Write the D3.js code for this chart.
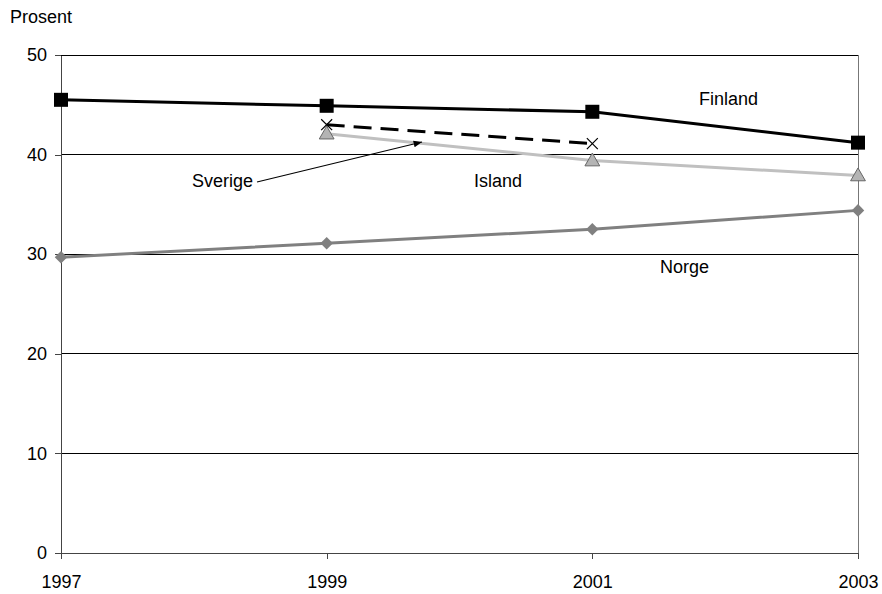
<!DOCTYPE html>
<html>
<head>
<meta charset="utf-8">
<title>Prosent</title>
<script src="https://cdn.jsdelivr.net/npm/d3@7"></script>
<style>
	body { margin: 0; background: #fff; }
	text { font-family: "Liberation Sans", Arial, sans-serif; fill: #000; }
	.axis path, .axis line { stroke: #444; shape-rendering: crispEdges; }
	.axis text { font-size: 18px; }
	.grid line { stroke: #000; stroke-width: 1; shape-rendering: crispEdges; }
</style>
</head>
<body>
<script>
// data
var years = [1997, 1999, 2001, 2003];
var yTicks = [0, 10, 20, 30, 40, 50];
var finland = [45.5, 44.9, 44.3, 41.2];
var sverige = [null, 43.0, 41.1, null];
var island = [null, 42.1, 39.4, 37.9];
var norge = [29.7, 31.1, 32.5, 34.4];

var width = 882, height = 594;
var margin = {left: 61, right: 24, top: 55, bottom: 41};

var svg = d3.select("body").append("svg")
	.attr("width", width)
	.attr("height", height);

var x = d3.scalePoint().domain(years).range([margin.left, width - margin.right]);
var y = d3.scaleLinear().domain([0, 50]).range([height - margin.bottom, margin.top]);

// gridlines
svg.append("g").attr("class", "grid")
	.selectAll("line")
	.data(yTicks.filter(function(d){ return d > 0; }))
	.enter().append("line")
	.attr("x1", margin.left).attr("x2", width - margin.right)
	.attr("y1", function(d){ return y(d); })
	.attr("y2", function(d){ return y(d); });

// right border
svg.append("line")
	.attr("x1", width - margin.right).attr("x2", width - margin.right)
	.attr("y1", y(50)).attr("y2", y(0))
	.attr("stroke", "#777").attr("shape-rendering", "crispEdges");

// axes
svg.append("g").attr("class", "axis")
	.attr("transform", "translate(0," + y(0) + ")")
	.call(d3.axisBottom(x).tickSize(6).tickPadding(16).tickSizeOuter(0))
	.call(function(g){ g.select(".domain").attr("stroke", "#000"); });

svg.append("g").attr("class", "axis")
	.attr("transform", "translate(" + margin.left + ",0)")
	.call(d3.axisLeft(y).tickValues(yTicks).tickSize(6).tickPadding(8).tickSizeOuter(0));

svg.selectAll(".axis text").attr("fill", "#000");

svg.append("text")
	.attr("x", 10).attr("y", 23)
	.attr("font-size", 18)
	.text("Prosent");

function drawLine(vals, color, dash) {
	var pts = years.map(function(yr, i){ return {yr: yr, v: vals[i]}; })
		.filter(function(d){ return d.v !== null; });
	var line = d3.line().x(function(d){ return x(d.yr); }).y(function(d){ return y(d.v); });
	svg.append("path").datum(pts)
		.attr("d", line)
		.attr("fill", "none")
		.attr("stroke", color)
		.attr("stroke-width", 3)
		.attr("stroke-dasharray", dash || null);
	return pts;
}

var nPts = drawLine(norge, "#808080");
var iPts = drawLine(island, "#c0c0c0");
var sPts = drawLine(sverige, "#000", "18,9");
var fPts = drawLine(finland, "#000");

// markers
svg.selectAll(".nm").data(nPts).enter().append("path")
	.attr("d", d3.symbol().type(d3.symbolDiamond2).size(100))
	.attr("transform", function(d){ return "translate(" + x(d.yr) + "," + y(d.v) + ")"; })
	.attr("fill", "#808080");

svg.selectAll(".im").data(iPts).enter().append("path")
	.attr("d", d3.symbol().type(d3.symbolTriangle).size(95))
	.attr("transform", function(d){ return "translate(" + x(d.yr) + "," + (y(d.v) + 1) + ")"; })
	.attr("fill", "#b4b4b4").attr("stroke", "#666").attr("stroke-width", 1);

svg.selectAll(".sm").data(sPts).enter().append("path")
	.attr("d", d3.symbol().type(d3.symbolTimes).size(80))
	.attr("transform", function(d){ return "translate(" + x(d.yr) + "," + y(d.v) + ")"; })
	.attr("fill", "none").attr("stroke", "#000").attr("stroke-width", 1.2);

svg.selectAll(".fm").data(fPts).enter().append("rect")
	.attr("x", function(d){ return x(d.yr) - 7; })
	.attr("y", function(d){ return y(d.v) - 7; })
	.attr("width", 14).attr("height", 14)
	.attr("fill", "#000");

// series labels
var labels = [
	{t: "Finland", x: 699, y: 105},
	{t: "Island", x: 474, y: 187},
	{t: "Norge", x: 660, y: 273},
	{t: "Sverige", x: 192, y: 187}
];
svg.selectAll(".lab").data(labels).enter().append("text")
	.attr("x", function(d){ return d.x; })
	.attr("y", function(d){ return d.y; })
	.attr("font-size", 18)
	.text(function(d){ return d.t; });

// arrow for Sverige
svg.append("defs").append("marker")
	.attr("id", "arr").attr("viewBox", "0 0 10 10")
	.attr("refX", 10).attr("refY", 5)
	.attr("markerWidth", 7).attr("markerHeight", 7)
	.attr("orient", "auto")
	.append("path").attr("d", "M0,1 L10,5 L0,9 Z").attr("fill", "#000");

svg.append("line")
	.attr("x1", 257).attr("y1", 182)
	.attr("x2", 422).attr("y2", 142)
	.attr("stroke", "#000").attr("stroke-width", 1.2)
	.attr("marker-end", "url(#arr)");
</script>
</body>
</html>
